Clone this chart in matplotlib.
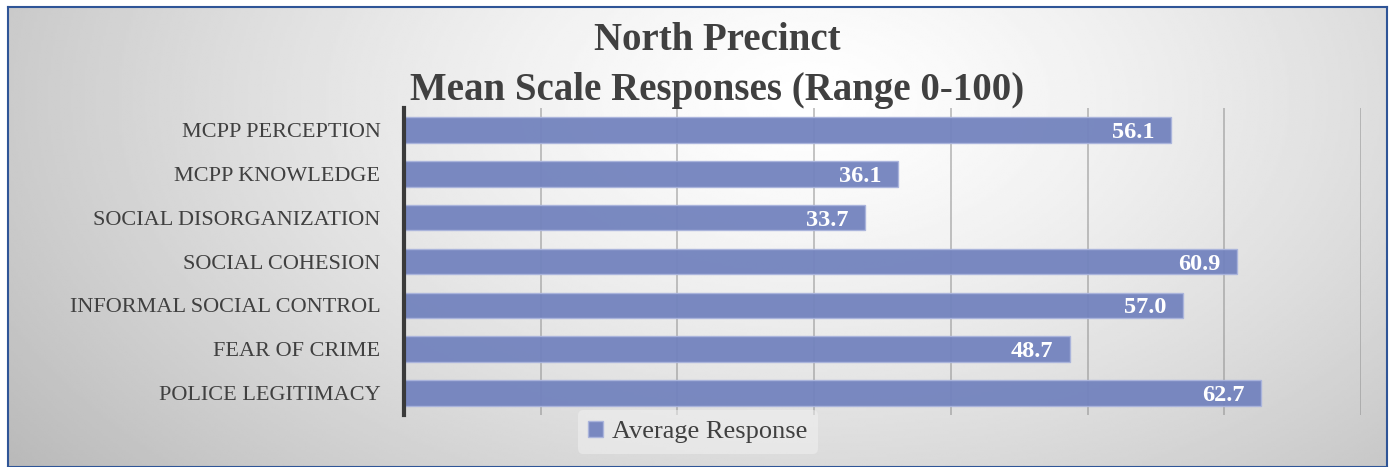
import numpy as np
import matplotlib.pyplot as plt

categories = ["POLICE LEGITIMACY", "FEAR OF CRIME", "INFORMAL SOCIAL CONTROL",
              "SOCIAL COHESION", "SOCIAL DISORGANIZATION", "MCPP KNOWLEDGE",
              "MCPP PERCEPTION"]
values = [62.7, 48.7, 57.0, 60.9, 33.7, 36.1, 56.1]
series_name = "Average Response"
title_lines = ["North Precinct", "Mean Scale Responses (Range 0-100)"]

SERIF = ["Liberation Serif", "DejaVu Serif"]
bar_color = "#7383be"

fig = plt.figure(figsize=(13.93, 4.67), dpi=100)

# gradient background (light centre-top, grey corners)
bg = fig.add_axes([8/1393, 0, 1379/1393, 1 - 7/467], zorder=-10)
yy, xx = np.mgrid[0:1:200j, 0:1:600j]
d = np.sqrt(((xx - 0.58) / 0.72) ** 2 + ((yy - 0.2) / 1.3) ** 2)
shade = 1.0 - 0.27 * np.clip(d, 0, 1) ** 1.3
bg.imshow(shade, cmap="gray", vmin=0, vmax=1, aspect="auto",
          extent=[0, 1, 1, 0], interpolation="bilinear")
bg.set_xticks([])
bg.set_yticks([])
for s in bg.spines.values():
    s.set_color("#2f5597")
    s.set_linewidth(1.5)

ax = fig.add_axes([404/1393, 1 - 415/467, (1361 - 404)/1393, (415 - 108)/467])
ax.patch.set_alpha(0)
y = np.arange(len(categories))
bars = ax.barh(y, values, height=0.58, color=bar_color, alpha=0.95,
               edgecolor="#aab4dc", linewidth=1, zorder=3, label=series_name)
ax.set_xlim(0, 70)
ax.set_ylim(-0.5, len(categories) - 0.5)
ax.set_xticks(np.arange(10, 71, 10))
ax.tick_params(axis="x", length=0, labelbottom=False)
ax.tick_params(axis="y", length=0, pad=17)
ax.grid(axis="x", color="#8c8c8c", alpha=0.55, linewidth=1.3, zorder=1)
ax.set_yticks(y)
ax.set_yticklabels(categories, fontsize=16, color="#404040", family=SERIF)
for s in ["top", "right", "bottom"]:
    ax.spines[s].set_visible(False)
ax.spines["left"].set_color("#3a3a3a")
ax.spines["left"].set_linewidth(3)
ax.spines["left"].set_zorder(5)

for b, v in zip(bars, values):
    ax.text(v - 1.2, b.get_y() + b.get_height() / 2, f"{v:.1f}",
            ha="right", va="center_baseline", color="white", fontsize=17.5,
            fontweight="bold", family=SERIF, zorder=6)

for i, line in enumerate(title_lines):
    fig.text(717/1393, 1 - (50 + 50 * i)/467, line, ha="center",
             va="baseline", fontsize=28, fontweight="bold", color="#404040",
             family=SERIF)

leg = fig.legend(handles=[bars], labels=[series_name], loc="center",
                 bbox_to_anchor=(698/1393, 1 - 432/467), frameon=True,
                 prop={"family": SERIF, "size": 19}, handlelength=0.55,
                 handleheight=0.55, handletextpad=0.35, borderpad=0.4,
                 borderaxespad=0)
leg.get_frame().set_facecolor("#f2f2f2")
leg.get_frame().set_alpha(0.5)
leg.get_frame().set_edgecolor("none")
for t in leg.get_texts():
    t.set_color("#404040")

fig.savefig("out.png", dpi=100)
